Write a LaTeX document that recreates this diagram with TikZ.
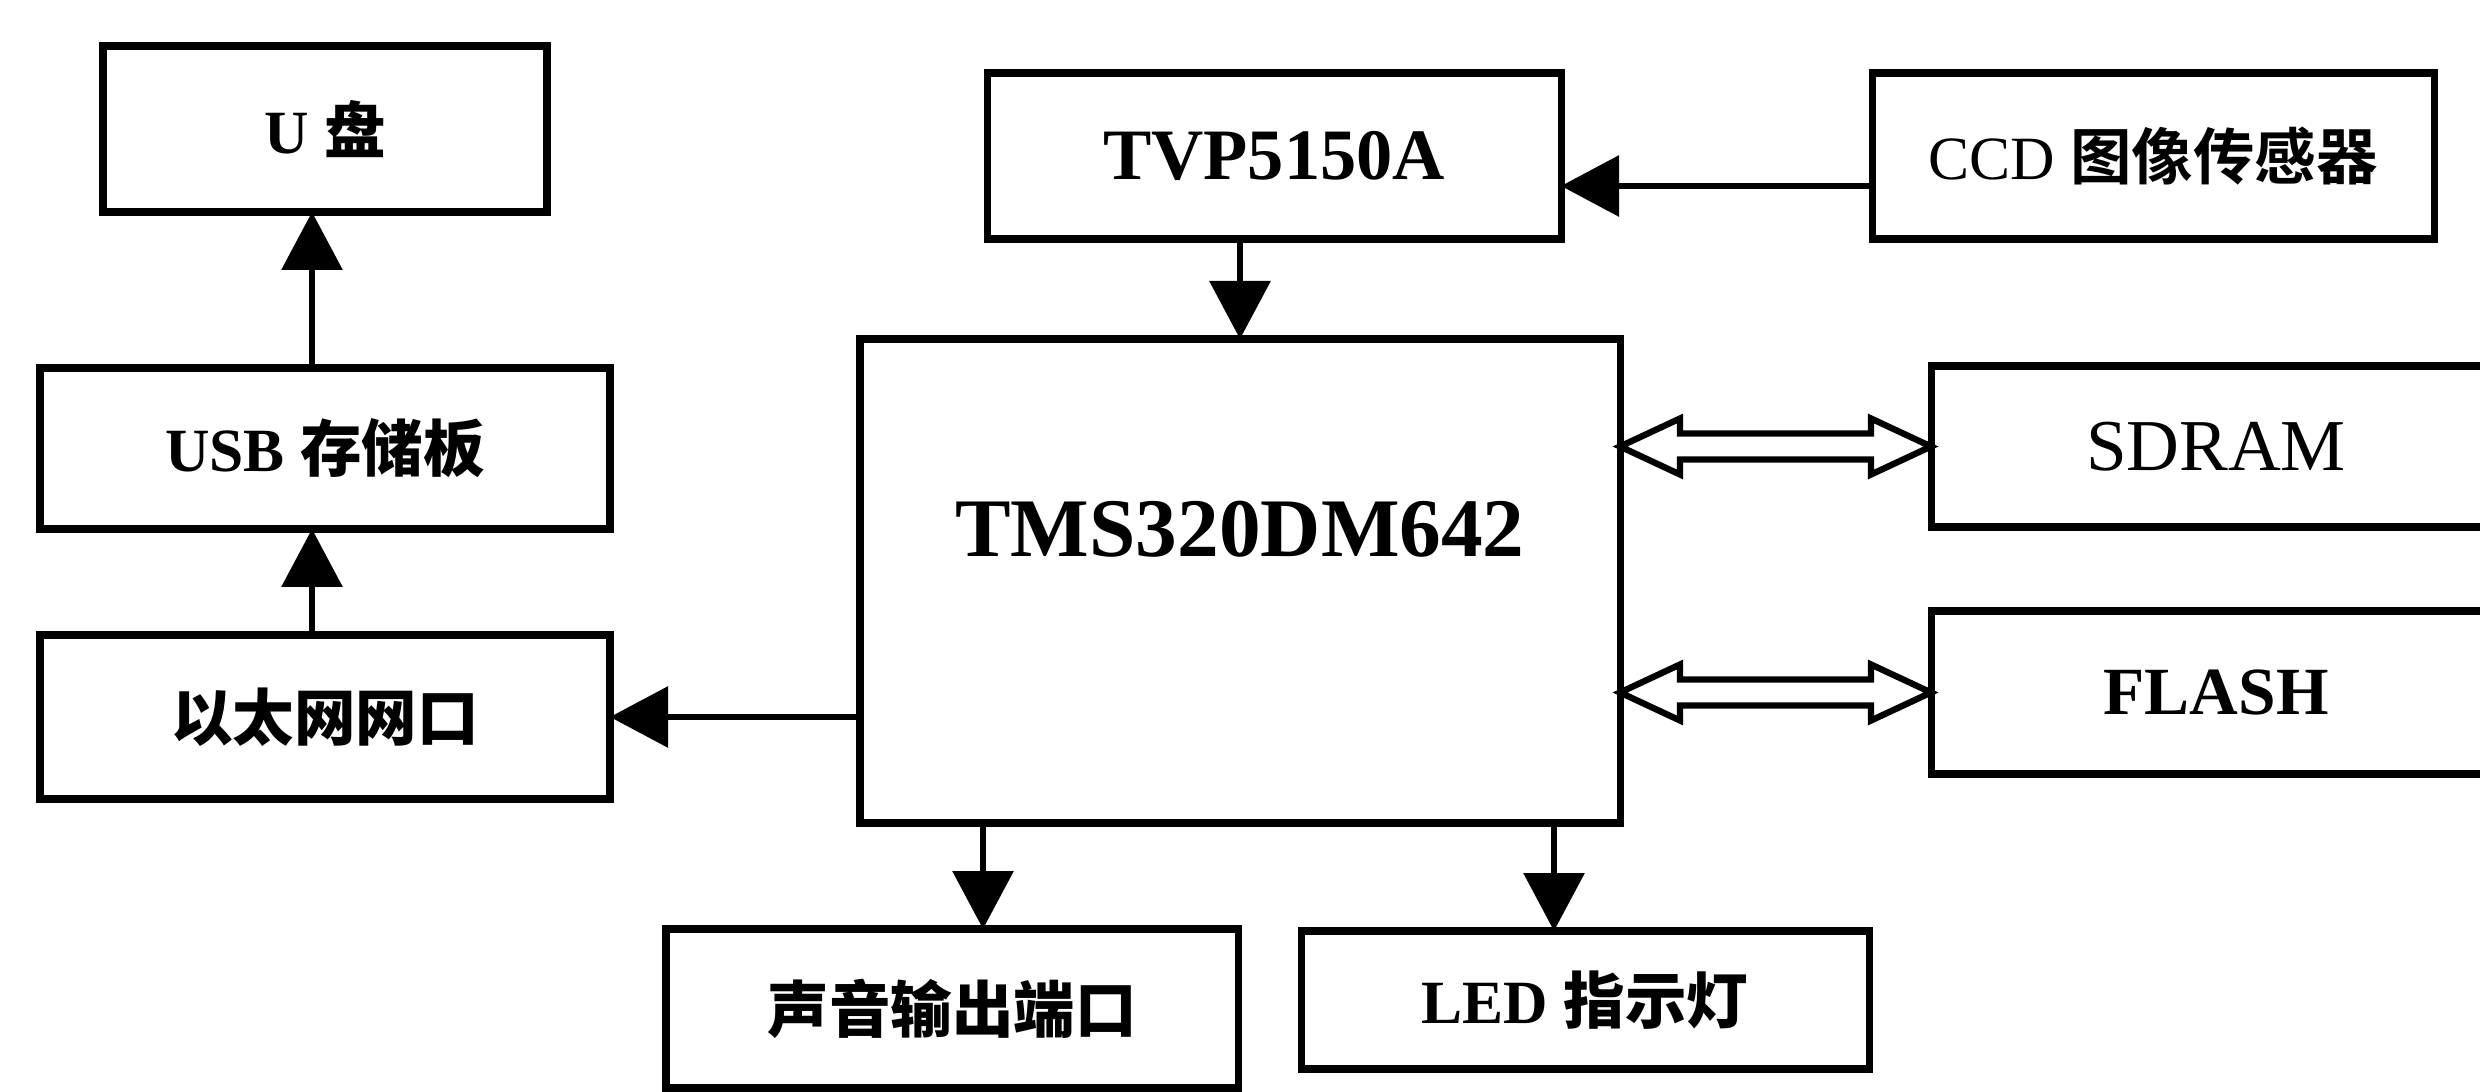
\documentclass[tikz,border=0pt]{standalone}
\usepackage{fontspec}
\setmainfont{Liberation Serif}
\newfontfamily\cjk{Noto Sans CJK SC Bold}
\usetikzlibrary{arrows.meta,positioning,calc}
\tikzset{
  box/.style={draw, line width=2pt, inner sep=0pt, outer sep=0pt, align=center,
              font=\fontsize{17.5}{20}\selectfont\bfseries},
  port/.style={box, minimum width=5.7cm, minimum height=1.62cm},
  flow/.style={-{Triangle[length=5.8mm,width=6mm]}, line width=1.8pt},
  bus/.style={line width=1.8pt, line join=miter},
}
% hollow two-headed bus arrow between two points at the same height
\newcommand\busarrow[2]{%
  \draw[bus] let \p1=(#1), \p2=(#2) in
    (\x1,\y1) -- ++(6mm,2.8mm) -- ++(0,-1.5mm) -- (\x2-6mm,\y1+1.3mm)
    -- ++(0,1.5mm) -- (\x2,\y1) -- ++(-6mm,-2.8mm) -- ++(0,1.5mm)
    -- (\x1+6mm,\y1-1.3mm) -- ++(0,-1.5mm) -- cycle;}

\begin{document}
\begin{tikzpicture}
  \clip (0,0) rectangle (24.8,-10.92);
  \node[box, minimum width=7.6cm, minimum height=4.84cm,
        font=\fontsize{23.7}{26}\selectfont\bfseries] (dsp) at (12.40,-5.81)
    {\raisebox{1.04cm}{TMS320DM642}};
  \node[box, minimum width=5.74cm, minimum height=1.66cm,
        font=\fontsize{20.6}{24}\selectfont\bfseries] (tvp) at (12.74,-1.56) {TVP5150A};
  \node[box, minimum width=5.62cm, minimum height=1.66cm, right=3.11cm of tvp] (ccd)
    {\mdseries CCD {\cjk 图像传感器}};
  \node[box, minimum width=4.44cm, minimum height=1.66cm] (upan) at (3.25,-1.29)
    {U {\cjk 盘}};
  \node[port, minimum height=1.61cm, below=1.56cm of upan] (usb) {USB {\cjk 存储板}};
  \node[port, minimum height=1.64cm, below=1.06cm of usb] (eth) {\cjk 以太网网口};
  \node[port, minimum height=1.61cm, font=\fontsize{20.8}{24}\selectfont] (sdram)
    at (22.16,-4.465) {SDRAM};
  \node[port, minimum height=1.63cm, below=0.84cm of sdram,
        font=\fontsize{19.2}{22}\selectfont\bfseries] (flash) {FLASH};
  \node[box, minimum width=5.72cm, minimum height=1.59cm] (audio) at (9.52,-10.085)
    {\cjk 声音输出端口};
  \node[box, minimum width=5.68cm, minimum height=1.38cm] (led) at (15.85,-10.00)
    {LED {\cjk 指示灯}};

  \coordinate (aud in) at ([xshift=3.1mm]audio.north);
  \coordinate (led in) at ([xshift=-3.1mm]led.north);
  \draw[flow] ([yshift=-3mm]ccd.west) -- ([yshift=-3mm]tvp.east);
  \draw[flow] (dsp.north |- tvp.south) -- (dsp.north);
  \draw[flow] (dsp.west |- eth.east) -- (eth.east);
  \draw[flow] ([xshift=-1.3mm]eth.north) -- ([xshift=-1.3mm]usb.south);
  \draw[flow] ([xshift=-1.3mm]usb.north) -- ([xshift=-1.3mm]usb.north |- upan.south);
  \draw[flow] (aud in |- dsp.south) -- (aud in);
  \draw[flow] (led in |- dsp.south) -- (led in);
  \busarrow{dsp.east |- sdram.west}{sdram.west}
  \busarrow{dsp.east |- flash.west}{flash.west}
\end{tikzpicture}
\end{document}
